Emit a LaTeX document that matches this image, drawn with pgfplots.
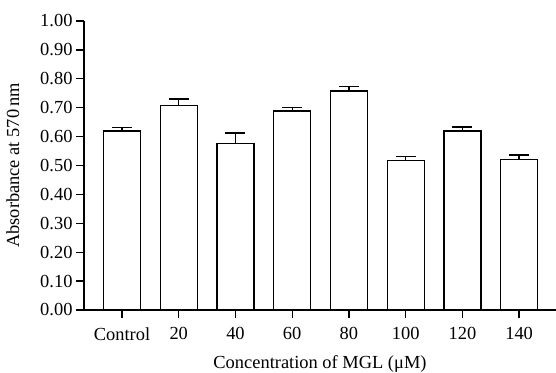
\documentclass[border=0pt]{standalone}
\usepackage{fontspec}
\setmainfont{Liberation Serif}
\usepackage{pgfplots}
\pgfplotsset{compat=1.18}
\begin{document}
\begin{tikzpicture}
\begin{axis}[
  scale only axis,
  width=472bp, height=289bp,
  xmin=-0.67, xmax=7.65,
  ymin=0, ymax=1,
  axis lines=left,
  axis line style={-, line width=1.3bp},
  every tick/.style={black, line width=1.3bp},
  tick align=outside,
  major tick length=8bp,
  xtick={0,1,2,3,4,5,6,7},
  xticklabels={Control,20,40,60,80,100,120,140},
  ytick={0,0.1,...,1.0},
  yticklabel style={/pgf/number format/.cd, fixed, fixed zerofill, precision=2},
  /pgf/number format/assume math mode=true,
  tick label style={font=\fontsize{18.5}{21}\selectfont},
  label style={font=\fontsize{18.5}{21}\selectfont},
  xticklabel style={yshift=-6bp},
  xlabel={Concentration of MGL (μM)},
  ylabel={Absorbance at 570\,nm},
  ylabel shift=14bp,
  xlabel shift=8bp,
]
\addplot[ybar, bar width=37bp, fill=white, draw=black, line width=1.3bp,
  error bars/.cd, y dir=plus, y explicit,
  error mark options={rotate=90, mark size=10bp, line width=1.3bp},
  error bar style={line width=1.3bp}]
  coordinates {
  (0,0.619) +- (0,0.012)
  (1,0.707) +- (0,0.023)
  (2,0.577) +- (0,0.035)
  (3,0.689) +- (0,0.011)
  (4,0.758) +- (0,0.015)
  (5,0.518) +- (0,0.014)
  (6,0.619) +- (0,0.014)
  (7,0.520) +- (0,0.016)
  };
\end{axis}
\pgfresetboundingbox
\path[use as bounding box] (-84bp,-63bp) rectangle (472bp,310bp);
\end{tikzpicture}
\end{document}
